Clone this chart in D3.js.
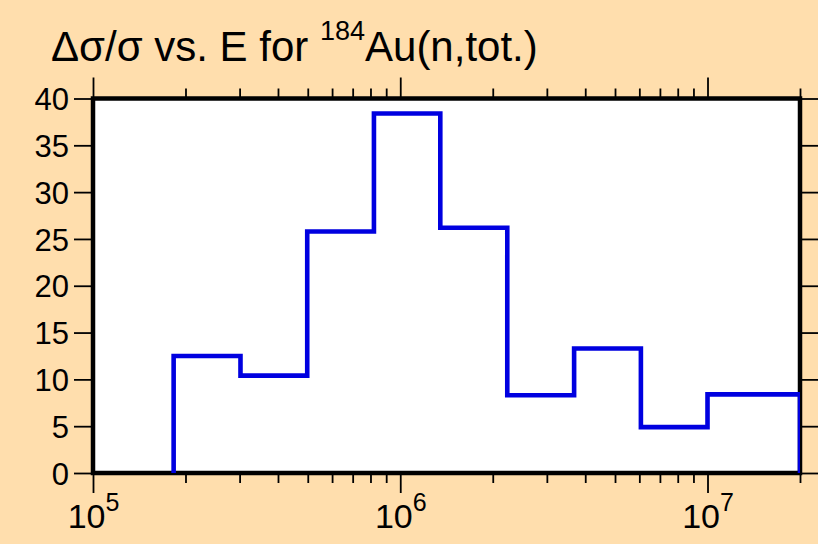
<!DOCTYPE html>
<html>
<head>
<meta charset="utf-8">
<script src="https://cdn.jsdelivr.net/npm/d3@7"></script>
<style>
  html, body { margin: 0; padding: 0; background: #ffdead; }
  svg { display: block; font-family: "Liberation Sans", Arial, sans-serif; }
</style>
</head>
<body>
<svg width="818" height="544"></svg>
<script>
// Bin edges (eV) and relative uncertainty (%) per bin
let edges = [1.83e5, 3.02e5, 4.98e5, 8.21e5, 1.35e6, 2.23e6, 3.68e6, 6.07e6, 1.0e7, 2.0e7];
let values = [12.5, 10.4, 25.8, 38.4, 26.2, 8.3, 13.3, 4.9, 8.4];

// Axis ticks
let yTicks = [0, 5, 10, 15, 20, 25, 30, 35, 40];
let xMajor = [1e5, 1e6, 1e7];
let xMajorExp = ['5', '6', '7'];
let xMinor = [2e5, 3e5, 4e5, 5e5, 6e5, 7e5, 8e5, 9e5,
              2e6, 3e6, 4e6, 5e6, 6e6, 7e6, 8e6, 9e6, 2e7];

let svg = d3.select('svg');
let margin = { top: 98.5, right: 18, bottom: 71, left: 93 };
let width = +svg.attr('width');
let height = +svg.attr('height');
let font = '"Liberation Sans", Arial, sans-serif';

let x = d3.scaleLog()
    .domain([1e5, 2e7])
    .range([margin.left, width - margin.right]);
let y = d3.scaleLinear()
    .domain([0, 40])
    .range([height - margin.bottom, margin.top]);

// White plot area
svg.append('rect')
    .attr('x', x.range()[0])
    .attr('y', y.range()[1])
    .attr('width', x.range()[1] - x.range()[0])
    .attr('height', y.range()[0] - y.range()[1])
    .attr('fill', '#fff');

// Helper to style ticks the same everywhere
function styleAxis(g) {
    g.select('.domain').remove();
    g.selectAll('.tick line').attr('stroke', '#000').attr('stroke-width', 1.8);
    g.selectAll('.tick text').attr('fill', '#000');
}

// Y axes (left with labels, right mirrored without)
svg.append('g')
    .attr('transform', 'translate(' + x.range()[0] + ',0)')
    .call(d3.axisLeft(y).tickValues(yTicks).tickSize(19).tickPadding(5))
    .call(styleAxis)
    .selectAll('text').attr('font-size', '31px').attr('font-family', font).attr('dy', '0.36em');

svg.append('g')
    .attr('transform', 'translate(' + x.range()[1] + ',0)')
    .call(d3.axisRight(y).tickValues(yTicks).tickSize(21).tickFormat(''))
    .call(styleAxis);

// X axes: minor and major ticks, bottom and top
svg.append('g')
    .attr('transform', 'translate(0,' + y.range()[0] + ')')
    .call(d3.axisBottom(x).tickValues(xMinor).tickSize(10).tickFormat(''))
    .call(styleAxis);
let xb = svg.append('g')
    .attr('transform', 'translate(0,' + y.range()[0] + ')')
    .call(d3.axisBottom(x).tickValues(xMajor).tickSize(20).tickFormat(''))
    .call(styleAxis);
svg.append('g')
    .attr('transform', 'translate(0,' + y.range()[1] + ')')
    .call(d3.axisTop(x).tickValues(xMinor).tickSize(10).tickFormat(''))
    .call(styleAxis);
svg.append('g')
    .attr('transform', 'translate(0,' + y.range()[1] + ')')
    .call(d3.axisTop(x).tickValues(xMajor).tickSize(21).tickFormat(''))
    .call(styleAxis);

// Power-of-ten labels with superscript exponent
xb.selectAll('.tick').each(function(d, i) {
    let t = d3.select(this).select('text')
        .attr('y', 55)
        .attr('dy', null)
        .attr('text-anchor', 'middle')
        .attr('font-size', '34px')
        .attr('font-family', font)
        .text(null);
    t.append('tspan').text('10');
    t.append('tspan').attr('dy', -17).attr('font-size', '25px').text(xMajorExp[i]);
});

// Frame
svg.append('rect')
    .attr('x', x.range()[0])
    .attr('y', y.range()[1])
    .attr('width', x.range()[1] - x.range()[0])
    .attr('height', y.range()[0] - y.range()[1])
    .attr('fill', 'none')
    .attr('stroke', '#000')
    .attr('stroke-width', 4.5);

// Clip the histogram to the plot box
svg.append('clipPath').attr('id', 'plotclip')
    .append('rect')
    .attr('x', x.range()[0])
    .attr('y', y.range()[1] - 5)
    .attr('width', x.range()[1] - x.range()[0])
    .attr('height', y.range()[0] - y.range()[1] + 5);

// Step outline of the binned uncertainties
let pts = [[edges[0], 0]];
values.forEach((v, i) => pts.push([edges[i], v]));
pts.push([edges[edges.length - 1], values[values.length - 1]]);
pts.push([edges[edges.length - 1], 0]);

let line = d3.line()
    .x(d => x(d[0]))
    .y(d => y(d[1]))
    .curve(d3.curveStepAfter);

svg.append('path')
    .datum(pts)
    .attr('clip-path', 'url(#plotclip)')
    .attr('d', line)
    .attr('fill', 'none')
    .attr('stroke', '#0000e0')
    .attr('stroke-width', 4.6)
    .attr('stroke-linejoin', 'miter');

// Title
let title = svg.append('text')
    .attr('x', 51)
    .attr('y', 61)
    .attr('font-size', '42px')
    .attr('font-family', font)
    .attr('fill', '#000');
title.append('tspan').text('\u0394\u03c3/\u03c3 vs. E for ');
title.append('tspan').attr('dy', -21).attr('font-size', '27px').text('184');
title.append('tspan').attr('dy', 21).text('Au(n,tot.)');
</script>
</body>
</html>
